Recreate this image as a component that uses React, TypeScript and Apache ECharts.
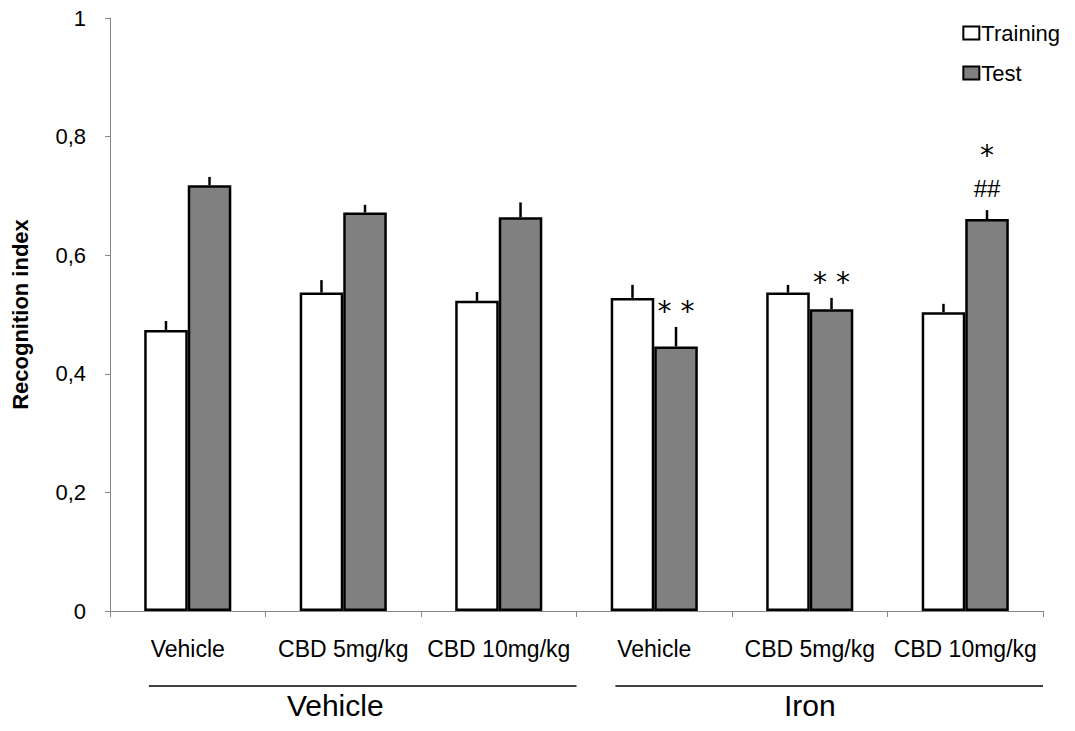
import React, { useEffect, useRef } from "react";
import * as echarts from "echarts";

const categories = ["Vehicle", "CBD 5mg/kg", "CBD 10mg/kg", "Vehicle", "CBD 5mg/kg", "CBD 10mg/kg"];
const groupLabels = ["", "Vehicle", "", "", "Iron", ""];
const groupRanges = [[0, 2], [3, 5]];
const trainingMean = [0.474, 0.537, 0.523, 0.528, 0.537, 0.504];
const trainingErr = [0.015, 0.021, 0.015, 0.022, 0.013, 0.014];
const testMean = [0.718, 0.672, 0.664, 0.446, 0.509, 0.661];
const testErr = [0.014, 0.013, 0.025, 0.033, 0.019, 0.015];
const testSig = ["", "", "", "* *", "* *", "##\n*"];
const yTicks = { min: 0, max: 1, interval: 0.2 };

const FONT = "'Liberation Sans', Arial, sans-serif";
const BAR_FRAC = 0.28;

function errSeries(name: string, means: number[], errs: number[], sigs: string[], side: number) {
  return {
    type: "custom",
    name,
    z: 5,
    silent: true,
    data: means.map((m, i) => [i, m, errs[i]]),
    renderItem: (params: any, api: any) => {
      const i = api.value(0);
      const m = api.value(1);
      const e = api.value(2);
      const base = api.coord([i, m]);
      const top = api.coord([i, m + e]);
      const bw = api.size([1, 0])[0] * BAR_FRAC;
      const cx = base[0] + side * bw / 2;
      const children: any[] = [
        {
          type: "line",
          shape: { x1: cx, y1: base[1], x2: cx, y2: top[1] },
          style: { stroke: "#000", lineWidth: 2.5 },
        },
      ];
      const s = sigs[params.dataIndex] || "";
      if (s) {
        const lines = s.split("\n");
        lines.forEach((t, k) => {
          const isStar = t.indexOf("*") >= 0;
          children.push({
            type: "text",
            x: cx,
            y: top[1] - (isStar ? 15 : 22) - 40 * k,
            style: {
              text: t,
              fill: "#000",
              font: isStar ? `28px 'DejaVu Sans', sans-serif` : `24px ${FONT}`,
              textAlign: "center",
              textVerticalAlign: "middle",
            },
          });
        });
      }
      return { type: "group", children };
    },
  };
}

export default function App() {
  const ref = useRef<HTMLDivElement>(null);
  useEffect(() => {
    if (!ref.current) return;
    const chart = echarts.init(ref.current, undefined, { renderer: "svg" });
    const option: any = {
      animation: false,
      backgroundColor: "#fff",
      textStyle: { fontFamily: FONT },
      grid: { left: 110, right: 32, top: 18, bottom: 120, outerBoundsMode: "none", containLabel: false },
      legend: {
        data: ["Training", "Test"],
        orient: "vertical",
        right: 10,
        top: 17,
        itemWidth: 16,
        itemHeight: 13,
        itemGap: 18,
        icon: "rect",
        textStyle: { fontSize: 22, color: "#000", fontFamily: FONT, padding: [0, 0, 0, -3] },
      },
      xAxis: [
        {
          type: "category",
          data: categories,
          axisLine: { lineStyle: { color: "#868686", width: 1 } },
          axisTick: { show: true, length: 6, lineStyle: { color: "#868686" } },
          axisLabel: { interval: 0, fontSize: 23, color: "#000", margin: 26, fontFamily: FONT },
        },
        {
          type: "category",
          data: groupLabels,
          position: "bottom",
          offset: 71,
          axisLine: { show: false },
          axisTick: { show: false },
          axisLabel: {
            interval: 0,
            fontSize: 30,
            color: "#000",
            margin: 8,
            fontFamily: FONT,
            formatter: (v: string, idx: number) => (idx === 1 ? `{a|${v}}` : v),
            rich: { a: { fontSize: 30, color: "#000", fontFamily: FONT, padding: [0, 16, 0, 0] } },
          },
        },
      ],
      yAxis: {
        type: "value",
        min: yTicks.min,
        max: yTicks.max,
        interval: yTicks.interval,
        name: "Recognition index",
        nameLocation: "middle",
        nameRotate: 90,
        nameGap: 79,
        nameTextStyle: { fontSize: 22, fontWeight: "bold", color: "#000", fontFamily: FONT },
        axisLine: { show: true, lineStyle: { color: "#868686", width: 1 } },
        axisTick: { show: true, length: 5, lineStyle: { color: "#868686" } },
        splitLine: { show: false },
        axisLabel: {
          fontSize: 22,
          color: "#000",
          margin: 24,
          fontFamily: FONT,
          formatter: (v: number) => (v === 0 ? "0" : v === 1 ? "1" : v.toFixed(1).replace(".", ",")),
        },
      },
      series: [
        {
          type: "bar",
          name: "Training",
          data: trainingMean,
          barWidth: BAR_FRAC * 100 + "%",
          barGap: "0%",
          z: 3,
          itemStyle: { color: "#fff", borderColor: "#000", borderWidth: 2.5 },
        },
        {
          type: "bar",
          name: "Test",
          data: testMean,
          barWidth: BAR_FRAC * 100 + "%",
          barGap: "0%",
          z: 3,
          itemStyle: { color: "#808080", borderColor: "#000", borderWidth: 2.5 },
        },
        errSeries("TrainingErr", trainingMean, trainingErr, [], -1),
        errSeries("TestErr", testMean, testErr, testSig, 1),
      ],
    };
    chart.setOption(option);

    const catW = (chart.convertToPixel({ xAxisIndex: 0 }, 1) as number) - (chart.convertToPixel({ xAxisIndex: 0 }, 0) as number);
    const lineY = 686;
    const graphics = groupRanges.map(([a, b]) => {
      const x1 = (chart.convertToPixel({ xAxisIndex: 0 }, a) as number) - catW * 0.25;
      const x2 = (chart.convertToPixel({ xAxisIndex: 0 }, b) as number) + catW * 0.5;
      return {
        type: "line",
        shape: { x1, y1: lineY, x2, y2: lineY },
        style: { stroke: "#000", lineWidth: 1.5 },
      };
    });
    chart.setOption({ graphic: graphics });

    return () => chart.dispose();
  }, []);
  return <div ref={ref} style={{ position: "fixed", left: 0, top: 0, width: 1075, height: 731 }} />;
}
